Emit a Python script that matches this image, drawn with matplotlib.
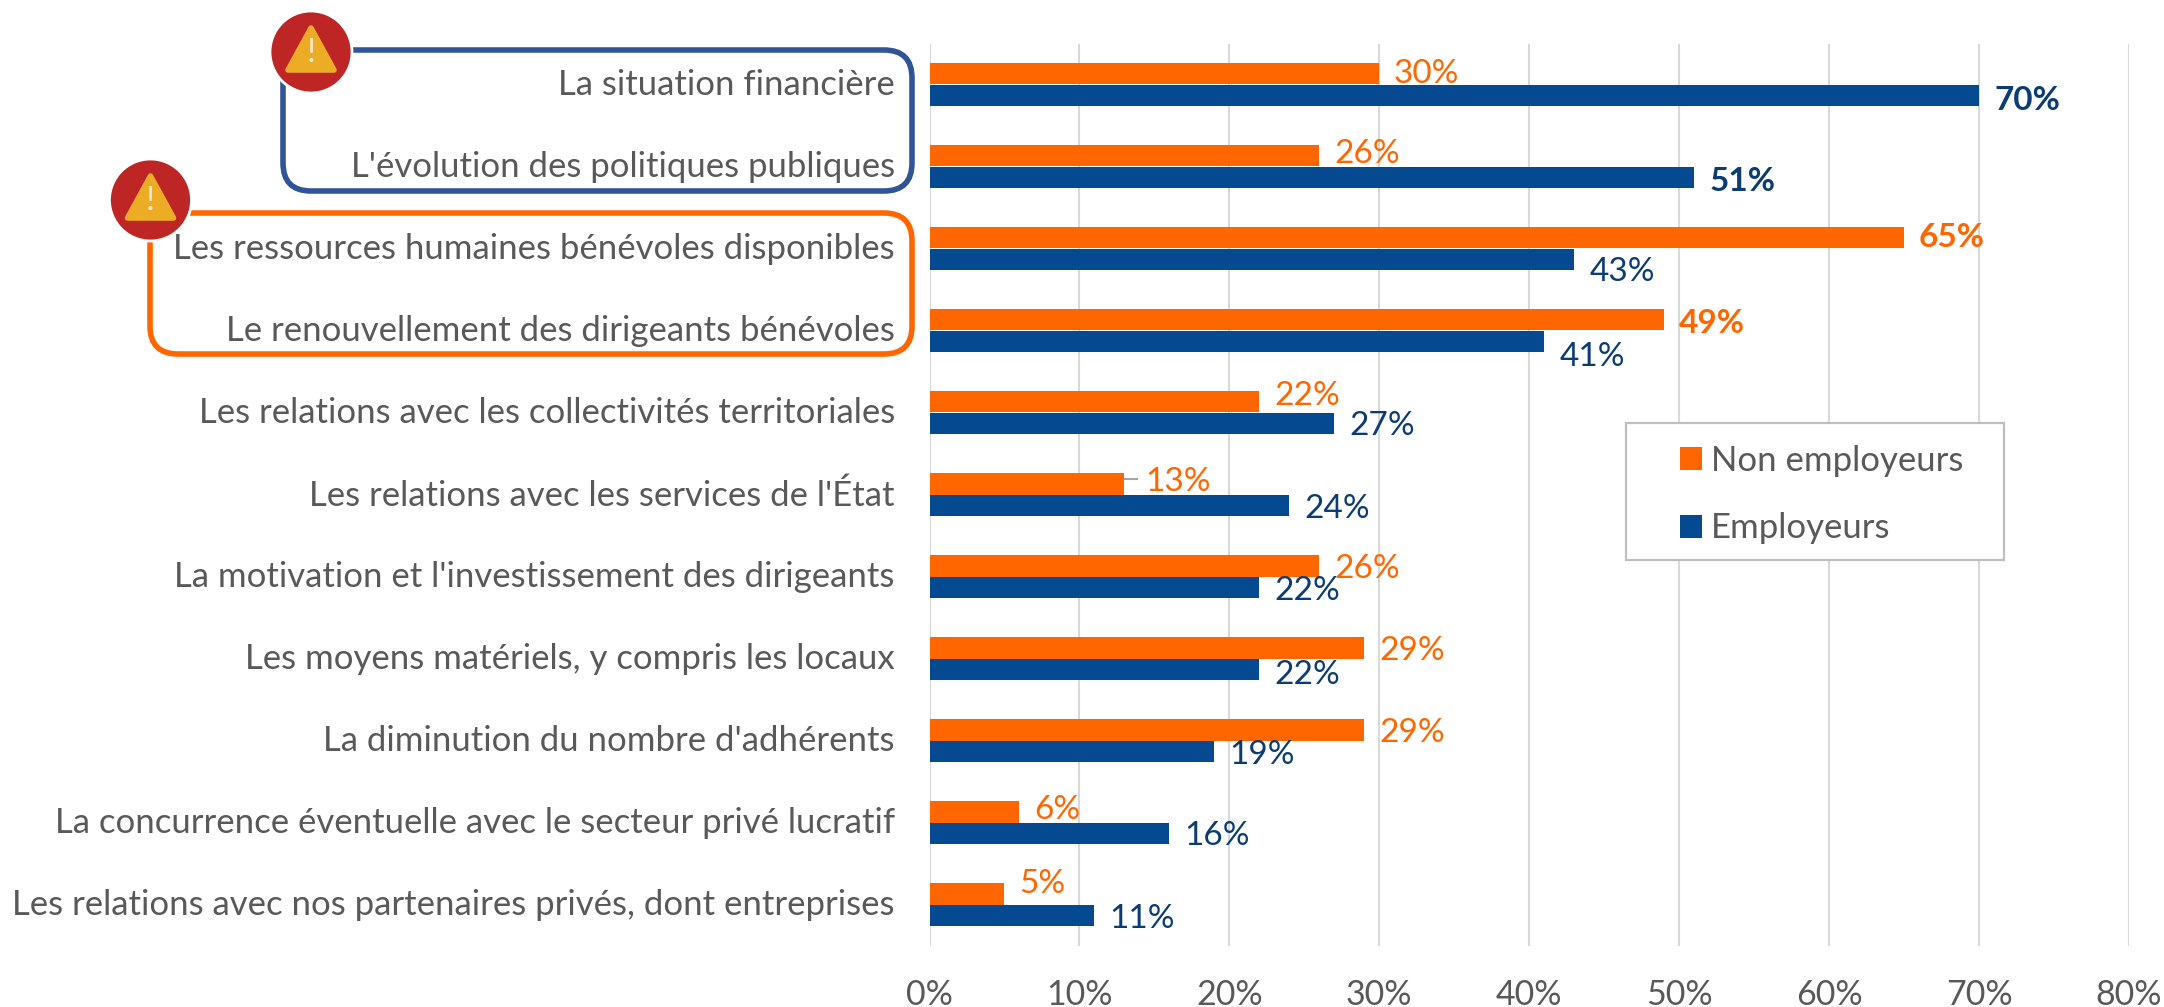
import matplotlib
matplotlib.use('Agg')
import matplotlib.pyplot as plt
import numpy as np
from matplotlib.patches import Ellipse, FancyBboxPatch, Polygon, Rectangle
from matplotlib.transforms import ScaledTranslation

# Data, top row first
categories = ['La situation financière',
              "L'évolution des politiques publiques",
              'Les ressources humaines bénévoles disponibles',
              'Le renouvellement des dirigeants bénévoles',
              'Les relations avec les collectivités territoriales',
              "Les relations avec les services de l'État",
              "La motivation et l'investissement des dirigeants",
              'Les moyens matériels, y compris les locaux',
              "La diminution du nombre d'adhérents",
              'La concurrence éventuelle avec le secteur privé lucratif',
              'Les relations avec nos partenaires privés, dont entreprises']
non_employeurs = [30, 26, 65, 49, 22, 13, 26, 29, 29, 6, 5]
employeurs = [70, 51, 43, 41, 27, 24, 22, 22, 19, 16, 11]
x_ticks = [0, 10, 20, 30, 40, 50, 60, 70, 80]

# hand placed labels, in points below the bar centre
orange_nudge = [0, -1, 0, 3, -4, -1, 2, 2, 2, -1, -7]
blue_nudge = [4, 3, 9, 11, 2, 3, 3, 4, 3, 2, 3]
bold_orange_rows = [2, 3]
bold_blue_rows = [0, 1]

ORANGE = '#FF6600'
BLUE = '#054A91'
DARK_BLUE = '#0B3C74'
GREY = '#595959'
W, H = 2164, 1007

plt.rcParams['font.family'] = ['Lato', 'DejaVu Sans']

fig = plt.figure(figsize=(W / 100, H / 100), dpi=100)

# overlay in pixel coordinates for the highlight frames and warning icons
over = fig.add_axes([0, 0, 1, 1], facecolor='none')
over.set_xlim(0, W)
over.set_ylim(H, 0)
over.axis('off')

ax = fig.add_axes([929.5 / W, 1 - 945.5 / H, 1199.5 / W, 902 / H], facecolor='none')

y = np.arange(len(categories))
bar_h = 0.262
ax.barh(y - bar_h / 2, non_employeurs, bar_h, color=ORANGE, label='Non employeurs', zorder=3)
ax.barh(y + bar_h / 2, employeurs, bar_h, color=BLUE, label='Employeurs', zorder=3)

# value labels
for i in y:
    ax.annotate(f'{non_employeurs[i]}%', (non_employeurs[i], i - bar_h / 2),
                xytext=(15 if i == 5 else 10.5, -orange_nudge[i]), textcoords='offset points',
                va='center', fontsize=24, color=ORANGE, zorder=5,
                fontweight='bold' if i in bold_orange_rows else 'normal')
    ax.annotate(f'{employeurs[i]}%', (employeurs[i], i + bar_h / 2),
                xytext=(11, -blue_nudge[i]), textcoords='offset points', va='center',
                fontsize=24, color=DARK_BLUE, zorder=5,
                fontweight='bold' if i in bold_blue_rows else 'normal')

# leader line of the 13% label
ax.plot([13, 13.85], [5 - bar_h * 0.72] * 2, color='#A6A6A6', lw=1.5, zorder=2)

ax.set_xlim(0, 80)
ax.set_ylim(len(categories) - 0.5, -0.5)
ax.set_yticks(y)
ax.set_yticklabels(categories)
ax.set_xticks(x_ticks)
ax.set_xticklabels([f'{t}%' for t in x_ticks])
ax.tick_params(axis='y', length=0, pad=25, labelsize=25, labelcolor=GREY)
ax.tick_params(axis='x', length=0, pad=24, labelsize=24.5, labelcolor=GREY)
ax.grid(axis='x', color='#D9D9D9', lw=1.5)
ax.set_axisbelow(True)
for s in ax.spines.values():
    s.set_visible(False)
lift = ScaledTranslation(0, 1.5 / 72, fig.dpi_scale_trans)
for lab in ax.get_yticklabels():
    lab.set_transform(lab.get_transform() + lift)

# legend box is drawn apart because its padding is not even
ax.add_patch(Rectangle((1625.5, 423), 378.5, 137, transform=over.transData,
                       fc='white', ec='#BFBFBF', lw=1.6, zorder=4))
leg = ax.legend(loc='upper left', bbox_to_anchor=((1680 - 929.5) / 1199.5, 1 - (445 - 43.5) / 902),
                fontsize=25, labelcolor=GREY, frameon=False,
                handlelength=0.63, handleheight=0.63, handletextpad=0.26, labelspacing=1.02,
                borderpad=0, borderaxespad=0)
leg.set_zorder(6)

frames = [(283, 50, 912, 191, '#2F5597'), (150, 213, 912, 354, ORANGE)]
for x0, y0, x1, y1, c in frames:
    over.add_patch(FancyBboxPatch((x0 + 28, y0 + 28), x1 - x0 - 56, y1 - y0 - 56,
                                  boxstyle='round,pad=28,rounding_size=28',
                                  fc='none', ec=c, lw=4))

icons = [(311, 52), (150.5, 200)]
for cx, cy in icons:
    over.add_patch(Ellipse((cx, cy), 82, 82, fc='#BE2626', ec='white', lw=2, zorder=4))
    over.add_patch(Polygon([(cx, cy - 24), (cx + 23, cy + 18), (cx - 23, cy + 18)], closed=True,
                           fc='#EDAC26', ec='#EDAC26', lw=4, joinstyle='round', zorder=5))
    over.text(cx, cy + 1, '!', color='#F5EBD5', fontsize=24,
              ha='center', va='center', zorder=6)

fig.savefig('out.png', dpi=100)
